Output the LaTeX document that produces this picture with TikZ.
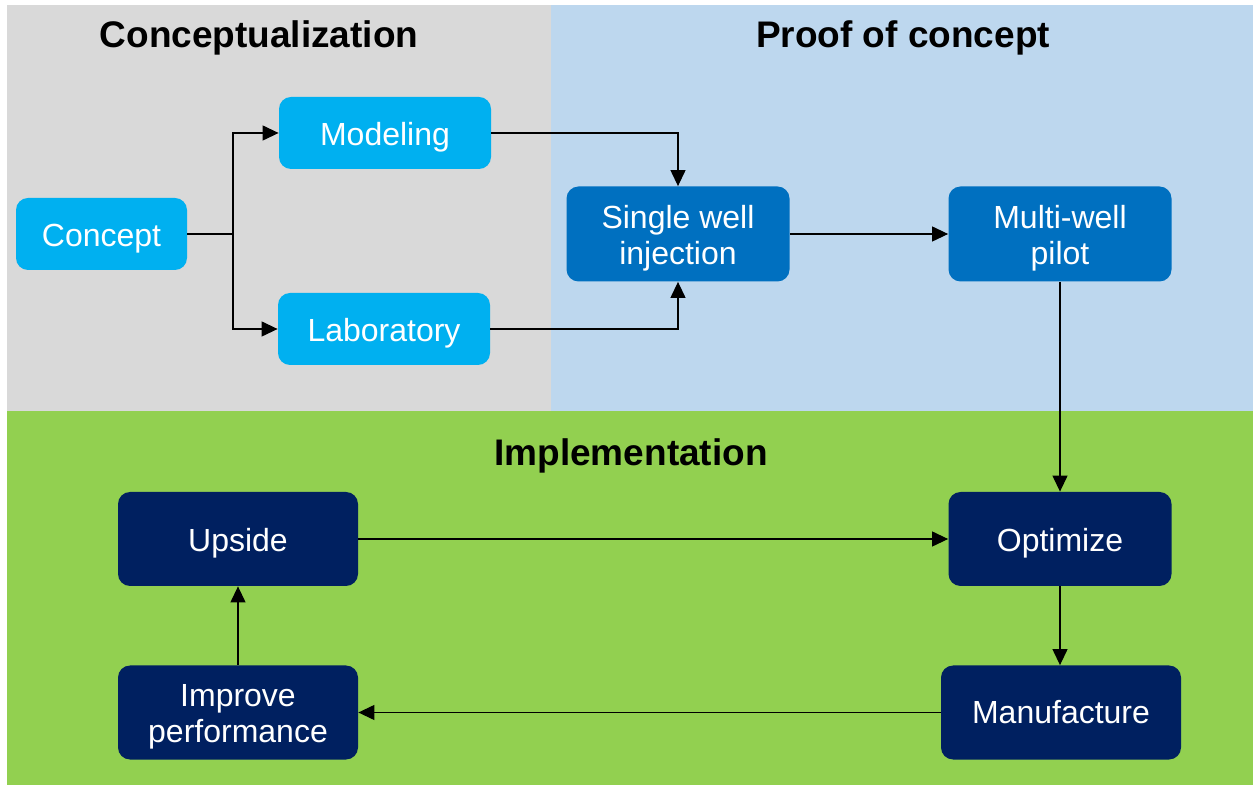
\documentclass[tikz,border=0pt]{standalone}
\usepackage{fontspec}
\setmainfont{Liberation Sans}
\usepackage{tikz}
\usetikzlibrary{positioning,arrows.meta}

\definecolor{graybg}{HTML}{D9D9D9}
\definecolor{bluebg}{HTML}{BDD7EE}
\definecolor{greenbg}{HTML}{92D050}
\definecolor{cyanbox}{HTML}{00B0F0}
\definecolor{midbox}{HTML}{0070C0}
\definecolor{navybox}{HTML}{002060}

\newcommand{\lowstrut}{\rule{0pt}{15.8pt}}

\tikzset{
	box/.style={rounded corners=6pt, inner sep=0pt, align=center, text=white,
		font=\fontsize{16}{18}\selectfont},
	conbox/.style={box, fill=cyanbox, minimum width=106pt, minimum height=36pt},
	proofbox/.style={box, fill=midbox, minimum width=111.5pt, minimum height=47.5pt},
	implbox/.style={box, fill=navybox, minimum width=120pt, minimum height=47pt},
	link/.style={line width=0.6pt, -{Triangle[length=8pt,width=7.5pt]}},
	phase/.style={font=\fontsize{18.5}{22}\selectfont\bfseries, anchor=base}
}

\begin{document}
\begin{tikzpicture}[x=0.5pt,y=-0.5pt]
	\useasboundingbox (0,0) rectangle (1253,785);
	
	% Nền các giai đoạn
	\fill[graybg] (7,5) rectangle (550.5,411);
	\fill[bluebg] (550.5,5) rectangle (1253,411);
	\fill[greenbg] (7,411) rectangle (1253,785);
	
	% Tiêu đề
	\node[phase] (ttlconcept) at (259,48) {Conceptualization};
	\node[phase] (ttlproof) at (903,48) {Proof of concept};
	\node[phase] (ttlimpl) at (631,466) {Implementation};
	
	% Khối
	\node[conbox, minimum width=85.5pt] (concept) at (101.5,234) {\lowstrut Concept};
	\node[conbox] (modeling) at (385,133) {\lowstrut Modeling};
	\node[conbox] (laboratory) at (384,329) {\lowstrut Laboratory};
	\node[proofbox] (single) at (678,234) {\lowstrut Single well\\injection};
	\node[proofbox] (multi) at (1060,234) {\lowstrut Multi-well\\pilot};
	\node[implbox] (upside) at (238,539) {\lowstrut Upside};
	\node[implbox] (improve) at (238,712.5) {\lowstrut Improve\\performance};
	\node[implbox, minimum width=111.5pt] (optimize) at (1060,539) {\lowstrut Optimize};
	\node[implbox] (manufacture) at (1061,712.5) {Manufacture};
	
	% Điểm rẽ nhánh
	\coordinate (split) at (233,234);
	
	% Mũi tên
	\draw[line width=0.6pt] (concept.east) -- (split);
	\draw[link] (split) |- (modeling.west);
	\draw[link] (split) |- (laboratory.west);
	\draw[link] (modeling.east) -| (single.north);
	\draw[link] (laboratory.east) -| (single.south);
	\draw[link] (single) -- (multi);
	\draw[link] (multi) -- (optimize);
	\draw[link] (upside) -- (optimize);
	\draw[link] (optimize.south) -- (optimize.south |- manufacture.north);
	\draw[link] (manufacture) -- (improve);
	\draw[link] (improve) -- (upside);
\end{tikzpicture}
\end{document}
